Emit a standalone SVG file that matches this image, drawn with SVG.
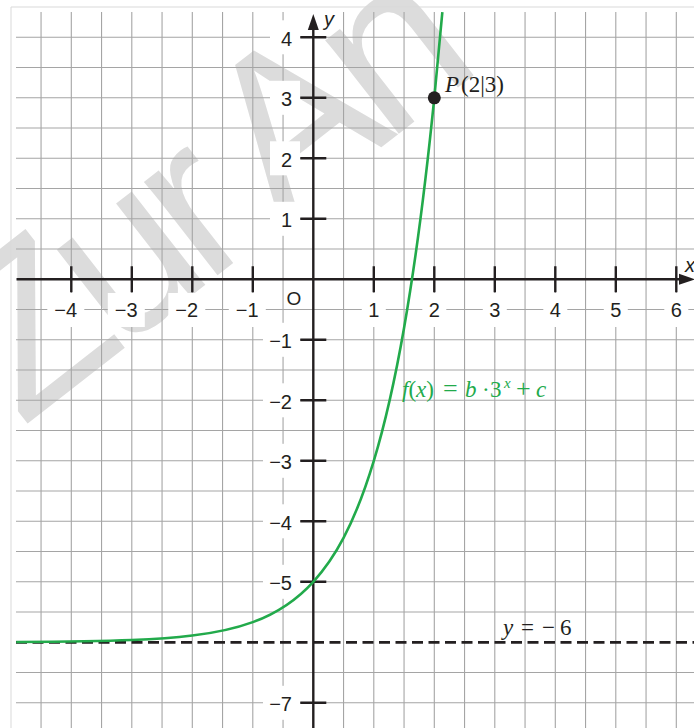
<svg xmlns="http://www.w3.org/2000/svg" width="694" height="728" viewBox="0 0 694 728">
<style>
.grid{stroke:#a5a5a5;stroke-width:1.1;fill:none}
.frame{stroke:#d9d9d9;stroke-width:1;fill:none}
.axis{stroke:#231f20;stroke-width:2.4;fill:none}
.tick{stroke:#231f20;stroke-width:2.4;fill:none}
.lbl{font-family:"Liberation Sans",Arial,sans-serif;font-size:20px;fill:#231f20}
.mid{text-anchor:middle}
.end{text-anchor:end}
.box{fill:#ffffff}
.serif{font-family:"Liberation Serif","Times New Roman",serif;font-size:23px}
.it{font-style:italic}
.op{font-size:26px}
.curve{stroke:#22aa4b;stroke-width:2.6;fill:none}
.asym{stroke:#231f20;stroke-width:2.8;stroke-dasharray:11 5.5;fill:none}
</style>
<rect x="0" y="0" width="694" height="728" fill="#ffffff"/>
<g id="watermark">
<text transform="translate(22,428) rotate(-38)" font-family="Liberation Sans, Arial, sans-serif" font-size="225" letter-spacing="-15" fill="#dcdcdc">Zur An</text>
</g>
<g id="frame">
<path class="frame" d="M11 728V7H694"/>
</g>
<g id="grid">
<path class="grid" d="M41.05 12V728M71.3 12V728M101.55 12V728M131.8 12V728M162.05 12V728M192.3 12V728M222.55 12V728M252.8 12V728M283.05 12V728M343.55 12V728M373.8 12V728M404.05 12V728M434.3 12V728M464.55 12V728M494.8 12V728M525.05 12V728M555.3 12V728M585.55 12V728M615.8 12V728M646.05 12V728M676.3 12V728"/>
<path class="grid" d="M16 37.3H694M16 67.55H694M16 97.8H694M16 128.05H694M16 158.3H694M16 188.55H694M16 218.8H694M16 249.05H694M16 309.55H694M16 339.8H694M16 370.05H694M16 400.3H694M16 430.55H694M16 460.8H694M16 491.05H694M16 521.3H694M16 551.55H694M16 581.8H694M16 612.05H694M16 672.55H694M16 702.8H694"/>
</g>
<g id="label-boxes">
<rect class="box" x="47.3" y="293" width="37" height="34"/>
<rect class="box" x="107.8" y="293" width="37" height="34"/>
<rect class="box" x="168.3" y="293" width="37" height="34"/>
<rect class="box" x="228.8" y="293" width="37" height="34"/>
<rect class="box" x="361.8" y="293" width="24" height="34"/>
<rect class="box" x="422.3" y="293" width="24" height="34"/>
<rect class="box" x="482.8" y="293" width="24" height="34"/>
<rect class="box" x="543.3" y="293" width="24" height="34"/>
<rect class="box" x="603.8" y="293" width="24" height="34"/>
<rect class="box" x="664.3" y="293" width="24" height="34"/>
<rect class="box" x="270" y="20.3" width="30" height="34"/>
<rect class="box" x="270" y="80.8" width="30" height="34"/>
<rect class="box" x="270" y="141.3" width="30" height="34"/>
<rect class="box" x="270" y="201.8" width="30" height="34"/>
<rect class="box" x="263" y="322.8" width="37" height="34"/>
<rect class="box" x="263" y="383.3" width="37" height="34"/>
<rect class="box" x="263" y="443.8" width="37" height="34"/>
<rect class="box" x="263" y="504.3" width="37" height="34"/>
<rect class="box" x="263" y="564.8" width="37" height="34"/>
<rect class="box" x="263" y="685.8" width="37" height="34"/>
</g>
<g id="asymptote">
<path class="asym" d="M16 642.3H694"/>
</g>
<g id="axes">
<path class="axis" d="M16.5 279.3H682"/>
<polygon points="695,279.3 679,273.8 679,284.8" fill="#231f20"/>
<path class="axis" d="M313.3 728V28"/>
<polygon points="313.3,14 307.8,30 318.8,30" fill="#231f20"/>
<path class="tick" d="M71.3 266.3V292.3M131.8 266.3V292.3M192.3 266.3V292.3M252.8 266.3V292.3M373.8 266.3V292.3M434.3 266.3V292.3M494.8 266.3V292.3M555.3 266.3V292.3M615.8 266.3V292.3M676.3 266.3V292.3"/>
<path class="tick" d="M300.3 37.3H326.3M300.3 97.8H326.3M300.3 158.3H326.3M300.3 218.8H326.3M300.3 339.8H326.3M300.3 400.3H326.3M300.3 460.8H326.3M300.3 521.3H326.3M300.3 581.8H326.3M300.3 702.8H326.3"/>
</g>
<g id="axis-labels">
<text class="lbl end" x="77.1" y="317">−4</text>
<text class="lbl end" x="137.6" y="317">−3</text>
<text class="lbl end" x="198.1" y="317">−2</text>
<text class="lbl end" x="258.6" y="317">−1</text>
<text class="lbl mid" x="373.8" y="317">1</text>
<text class="lbl mid" x="434.3" y="317">2</text>
<text class="lbl mid" x="494.8" y="317">3</text>
<text class="lbl mid" x="555.3" y="317">4</text>
<text class="lbl mid" x="615.8" y="317">5</text>
<text class="lbl mid" x="676.3" y="317">6</text>
<text class="lbl end" x="292" y="45.8">4</text>
<text class="lbl end" x="292" y="106.3">3</text>
<text class="lbl end" x="292" y="166.8">2</text>
<text class="lbl end" x="292" y="227.3">1</text>
<text class="lbl end" x="292" y="348.3">−1</text>
<text class="lbl end" x="292" y="408.8">−2</text>
<text class="lbl end" x="292" y="469.3">−3</text>
<text class="lbl end" x="292" y="529.8">−4</text>
<text class="lbl end" x="292" y="590.3">−5</text>
<text class="lbl end" x="292" y="711.3">−7</text>
<text class="lbl mid" x="294" y="305" style="font-size:19px">O</text>
<text class="lbl it" x="324" y="26">y</text>
<text class="lbl it" x="685" y="272">x</text>
</g>
<g id="curve">
<path class="curve" d="M16.2 642.0C54.72 641.81 93.28 641.63 131.8 640.06C151.97 639.24 172.13 638.04 192.3 635.58C212.47 633.12 232.63 629.52 252.8 622.13C272.97 614.74 293.13 603.96 313.3 581.8C333.47 559.64 353.63 527.28 373.8 460.8C383.88 427.57 393.97 385.49 404.05 327.93C414.13 270.37 424.22 197.5 434.3 97.8C436.98 71.27 439.67 42.8 442.35 12.1"/>
<text class="serif" y="397" fill="#22aa4b"><tspan x="402" class="it">f</tspan><tspan>(</tspan><tspan class="it">x</tspan><tspan>)</tspan><tspan x="443" class="op">=</tspan><tspan x="465" class="it">b</tspan><tspan x="482">·</tspan><tspan x="490">3</tspan><tspan x="504" dy="-9" class="it" style="font-size:15px">x</tspan><tspan x="516" dy="9" class="op">+</tspan><tspan x="536" class="it">c</tspan></text>
</g>
<g id="point-P">
<circle cx="434.3" cy="97.8" r="6.5" fill="#231f20"/>
<text class="serif" y="92" fill="#231f20"><tspan x="445" class="it">P</tspan><tspan x="461">(2|3)</tspan></text>
</g>
<g id="asymptote-label">
<text class="serif" y="635" fill="#231f20"><tspan x="503" class="it">y</tspan><tspan x="521">=</tspan><tspan x="542">−</tspan><tspan x="560">6</tspan></text>
</g>
</svg>
